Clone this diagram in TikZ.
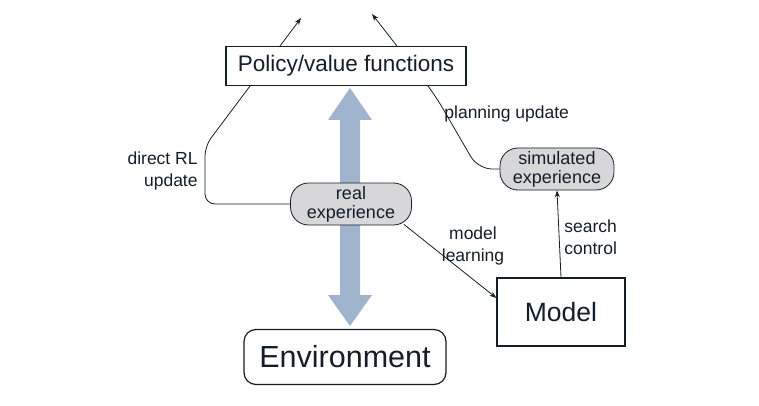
\documentclass[tikz,border=0pt]{standalone}
\usepackage{fontspec}
\setmainfont{Liberation Sans}
\usetikzlibrary{arrows.meta,shapes.arrows}
\definecolor{arrowblue}{RGB}{160,180,205}
\definecolor{expgray}{RGB}{215,215,218}
\definecolor{inkcol}{RGB}{20,30,40}
\tikzset{
  every picture/.style={line width=0.8pt},
  box/.style={draw=inkcol,fill=white,line width=1.2pt,text=inkcol},
  exp/.style={draw=inkcol,fill=expgray,rounded corners=18pt,minimum height=42pt,text=inkcol,align=center,font=\fontsize{18}{19}\selectfont,inner sep=1pt},
  lbl/.style={text=inkcol,font=\fontsize{17.5}{22}\selectfont,inner sep=1pt},
  conn/.style={draw=inkcol,-{Stealth[length=7pt,width=5pt]}}
}
\begin{document}
\begin{tikzpicture}[x=1pt,y=-1pt]
    \useasboundingbox (0,0) rectangle (759,406);
    % big two-way arrow
    \fill[arrowblue] (340,120) -- (328,120) -- (350,88) -- (372,120) -- (360,120)
        -- (360,295) -- (372,295) -- (350,326) -- (328,295) -- (340,295) -- cycle;

    \node[exp,minimum width=121pt] (real) at (351,204) {real\\experience};
    \node[exp,minimum width=114pt] (sim) at (557,169) {simulated\\experience};
    \node[box,minimum width=128pt,minimum height=68pt,font=\fontsize{26.5}{26.5}\selectfont] (model) at (561,312) {Model};
    \node[box,rounded corners=12pt,minimum width=202pt,minimum height=55pt,font=\fontsize{30.5}{30.5}\selectfont] (env) at (345,357) {Environment};

    \coordinate (tipL) at (301,18);
    \coordinate (tipR) at (372,14);
    \draw[conn,rounded corners=10pt] (real.west) -- (205,204) -- (205,146) -- (tipL);
    \draw[conn,rounded corners=14pt] (sim.west) -- (478,169) -- (435,95) -- (tipR);
    \draw[conn] (real.south east) ++(-8,-1) -- (model.west |- 0,298);
    \draw[conn] (model.north) -- (sim.south);

    \node[box,minimum width=240pt,minimum height=39pt,font=\fontsize{22.5}{22.5}\selectfont] (policy) at (346,66) {Policy/value functions};

    \node[lbl,align=right,anchor=east] (dl) at (199,171) {direct RL\\update};
    \node[lbl,anchor=west] (pl) at (443,114) {planning update};
    \node[lbl,align=center] (ml) at (473,246) {model\\learning};
    \node[lbl,align=left,anchor=west] (sc) at (563,237) {search\\control};
\end{tikzpicture}
\end{document}
